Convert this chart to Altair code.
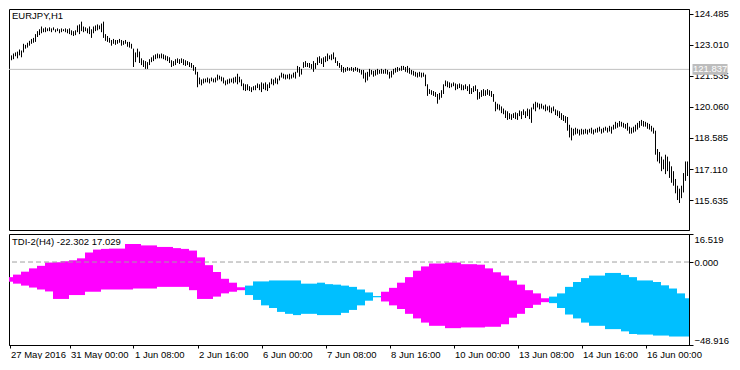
import altair as alt
import pandas as pd

# ---------------- data ----------------
high = [
    122.41, 122.36, 122.46, 122.50, 122.59, 122.64, 122.68, 122.78, 122.73, 123.05,
    123.00, 123.10, 123.19, 123.28, 123.33, 123.51, 123.65, 123.74, 123.87, 123.78,
    123.83, 123.78, 123.83, 123.78, 123.83, 123.74, 123.78, 123.74, 123.78, 123.74,
    123.78, 123.74, 123.78, 123.69, 123.65, 123.69, 123.92, 123.97, 124.10, 123.87,
    123.83, 123.78, 123.87, 123.74, 123.87, 123.92, 123.97, 123.92, 124.01, 124.10,
    123.51, 123.42, 123.33, 123.23, 123.28, 123.23, 123.23, 123.28, 123.23, 123.19,
    123.23, 123.14, 123.14, 123.05, 122.82, 122.64, 122.82, 122.68, 122.36, 122.27,
    122.23, 122.18, 122.32, 122.41, 122.50, 122.55, 122.59, 122.55, 122.59, 122.55,
    122.50, 122.46, 122.41, 122.27, 122.23, 122.32, 122.36, 122.32, 122.36, 122.32,
    122.27, 122.23, 122.18, 122.14, 122.04, 121.95, 121.72, 121.45, 121.36, 121.40,
    121.40, 121.45, 121.40, 121.45, 121.40, 121.45, 121.59, 121.54, 121.49, 121.45,
    121.31, 121.36, 121.40, 121.40, 121.45, 121.49, 121.63, 121.49, 121.36, 121.17,
    121.13, 121.13, 121.04, 120.99, 121.04, 121.08, 121.17, 121.13, 121.22, 121.17,
    121.22, 121.13, 121.22, 121.40, 121.36, 121.45, 121.40, 121.54, 121.68, 121.63,
    121.59, 121.59, 121.63, 121.59, 121.68, 121.72, 122.00, 121.95, 121.86, 122.18,
    122.23, 122.14, 122.14, 122.09, 122.23, 122.14, 122.41, 122.46, 122.36, 122.41,
    122.46, 122.59, 122.50, 122.55, 122.64, 122.41, 122.23, 122.14, 122.04, 121.95,
    121.91, 121.95, 121.91, 121.95, 121.91, 121.95, 121.91, 121.86, 121.81, 121.81,
    121.68, 121.72, 121.86, 121.81, 121.77, 121.81, 121.86, 121.81, 121.86, 121.81,
    121.86, 121.81, 121.72, 121.77, 121.86, 121.91, 121.95, 121.91, 122.00, 122.00,
    121.95, 122.00, 121.91, 121.81, 121.77, 121.72, 121.68, 121.72, 121.68, 121.68,
    121.59, 121.13, 120.90, 120.85, 120.81, 120.76, 120.67, 120.72, 120.85, 121.13,
    121.31, 121.27, 121.22, 121.17, 121.22, 121.17, 121.13, 121.17, 121.13, 121.08,
    121.13, 121.04, 121.13, 120.95, 121.04, 121.08, 120.90, 120.76, 120.85, 120.90,
    120.85, 120.90, 120.85, 120.81, 120.67, 120.30, 120.21, 120.17, 120.08, 119.98,
    119.89, 119.85, 119.76, 119.71, 119.76, 119.80, 119.76, 119.89, 119.85, 119.94,
    119.85, 119.98, 119.94, 120.03, 120.21, 120.30, 120.26, 120.21, 120.21, 120.12,
    120.17, 120.08, 120.12, 120.03, 120.08, 119.94, 119.89, 119.85, 119.76, 119.67,
    119.62, 119.58, 119.21, 119.07, 119.02, 119.07, 119.02, 118.98, 119.02, 118.98,
    119.02, 118.98, 119.02, 119.07, 118.98, 119.02, 119.07, 119.12, 119.02, 119.07,
    119.12, 119.07, 119.16, 119.12, 119.21, 119.35, 119.30, 119.39, 119.35, 119.30,
    119.25, 119.30, 119.12, 119.07, 119.12, 119.21, 119.30, 119.39, 119.44, 119.39,
    119.35, 119.30, 119.25, 119.16, 119.07, 118.93, 118.06, 117.92, 117.70, 117.56,
    117.79, 117.70, 117.47, 117.24, 117.01, 116.64, 116.32, 116.18, 116.32, 116.92,
    117.47, 117.47,
]
low = [
    122.18, 122.14, 122.23, 122.27, 122.32, 122.46, 122.36, 122.50, 122.41, 122.64,
    122.82, 122.87, 122.96, 123.05, 123.10, 123.14, 123.37, 123.46, 123.55, 123.60,
    123.60, 123.65, 123.65, 123.60, 123.69, 123.60, 123.65, 123.55, 123.60, 123.65,
    123.60, 123.55, 123.51, 123.46, 123.42, 123.46, 123.60, 123.51, 123.65, 123.60,
    123.65, 123.55, 123.51, 123.33, 123.55, 123.65, 123.69, 123.74, 123.60, 123.33,
    123.19, 123.14, 123.10, 122.96, 123.05, 123.00, 123.05, 123.10, 122.96, 123.00,
    123.05, 122.91, 122.87, 122.82, 121.95, 122.18, 122.41, 122.14, 122.04, 121.95,
    121.86, 121.86, 122.04, 122.18, 122.23, 122.32, 122.36, 122.36, 122.36, 122.32,
    122.27, 122.23, 122.14, 121.95, 122.00, 122.04, 122.14, 122.09, 122.14, 122.04,
    122.00, 122.04, 121.95, 121.91, 121.77, 121.59, 120.99, 121.13, 121.08, 121.17,
    121.22, 121.22, 121.17, 121.27, 121.22, 121.22, 121.31, 121.36, 121.27, 121.17,
    121.08, 121.13, 121.17, 121.22, 121.17, 121.22, 121.13, 121.22, 121.04, 120.85,
    120.81, 120.85, 120.81, 120.76, 120.85, 120.85, 120.95, 120.85, 120.76, 120.90,
    120.85, 120.81, 120.95, 121.13, 121.08, 121.17, 121.13, 121.31, 121.45, 121.40,
    121.36, 121.40, 121.36, 121.40, 121.45, 121.40, 121.68, 121.49, 121.59, 121.91,
    121.95, 121.95, 121.91, 121.86, 121.72, 121.86, 122.04, 122.14, 122.09, 121.95,
    122.18, 122.23, 122.32, 122.27, 122.32, 122.14, 122.00, 121.91, 121.72, 121.68,
    121.72, 121.77, 121.77, 121.77, 121.72, 121.77, 121.72, 121.68, 121.59, 121.40,
    121.22, 121.31, 121.49, 121.59, 121.49, 121.54, 121.59, 121.63, 121.63, 121.63,
    121.63, 121.59, 121.40, 121.45, 121.59, 121.68, 121.72, 121.77, 121.77, 121.81,
    121.72, 121.68, 121.63, 121.59, 121.54, 121.49, 121.45, 121.49, 121.45, 121.49,
    121.04, 120.58, 120.67, 120.63, 120.58, 120.53, 120.21, 120.40, 120.49, 120.67,
    121.04, 120.99, 120.95, 120.99, 121.04, 120.85, 120.90, 120.95, 120.85, 120.85,
    120.90, 120.81, 120.67, 120.67, 120.76, 120.81, 120.40, 120.44, 120.53, 120.58,
    120.58, 120.63, 120.58, 120.53, 120.30, 119.85, 119.94, 119.89, 119.76, 119.71,
    119.53, 119.44, 119.48, 119.44, 119.53, 119.48, 119.44, 119.62, 119.48, 119.67,
    119.53, 119.62, 119.48, 119.30, 119.94, 119.85, 120.03, 119.94, 119.98, 119.94,
    119.85, 119.89, 119.80, 119.76, 119.85, 119.67, 119.62, 119.53, 119.44, 119.39,
    119.30, 118.93, 118.61, 118.47, 118.70, 118.75, 118.79, 118.70, 118.75, 118.75,
    118.79, 118.75, 118.84, 118.79, 118.75, 118.84, 118.84, 118.89, 118.79, 118.84,
    118.93, 118.84, 118.89, 118.79, 118.98, 119.02, 119.07, 119.12, 119.12, 119.07,
    119.02, 118.93, 118.79, 118.79, 118.84, 118.89, 118.98, 119.07, 119.16, 119.12,
    119.12, 119.02, 118.98, 118.89, 118.79, 117.79, 117.47, 117.38, 117.01, 117.10,
    116.87, 117.01, 116.69, 116.46, 116.32, 115.96, 115.64, 115.50, 115.73, 116.00,
    116.55, 116.78,
]

# TDI-2 (H4) band, one value per H4 step (4 H1 bars)
tdi_top = [
    -8.91, -7.42, -5.69, -3.74, -2.25, -0.30, -0.13, 0.45, 1.02, 2.17,
    5.61, 7.33, 7.74, 7.91, 7.91, 10.61, 10.61, 9.80, 9.80, 8.89,
    8.89, 8.20, 7.74, 6.76, 2.74, -1.85, -5.87, -9.88, -12.18, -14.88,
    -13.90, -11.43, -11.43, -10.86, -10.86, -10.86, -10.86, -12.75, -12.75, -12.18,
    -13.04, -13.33, -13.90, -14.65, -16.20, -17.92, -20.05, -17.52, -15.22, -12.18,
    -8.91, -5.12, -2.59, -0.87, -0.87, -0.30, -0.30, -1.27, -1.27, -1.56,
    -3.74, -6.04, -7.99, -10.86, -13.33, -16.60, -18.49, -21.36, -20.39, -18.49,
    -14.65, -11.78, -9.48, -7.99, -7.99, -6.44, -6.44, -7.59, -8.91, -10.86,
    -10.86, -11.78, -13.73, -15.62, -18.49, -21.36,
]
tdi_bot = [
    -11.61, -12.75, -13.90, -15.05, -16.20, -17.35, -21.77, -21.77, -19.47, -19.47,
    -17.52, -17.52, -16.20, -16.20, -16.20, -16.20, -15.62, -15.62, -15.62, -14.65,
    -14.65, -14.65, -14.65, -16.60, -21.77, -21.77, -20.39, -18.49, -17.52, -16.60,
    -19.47, -22.34, -25.55, -27.10, -29.40, -30.55, -31.29, -30.55, -30.55, -31.29,
    -31.29, -31.29, -29.97, -28.25, -25.55, -22.80, -20.79, -23.26, -25.55, -27.68,
    -30.55, -33.25, -35.71, -37.61, -37.61, -38.99, -38.99, -38.58, -38.58, -38.58,
    -38.18, -38.18, -36.69, -32.84, -30.55, -27.10, -25.21, -23.66, -24.23, -27.10,
    -30.95, -33.25, -35.71, -37.61, -37.61, -39.56, -39.56, -40.88, -42.43, -42.77,
    -42.77, -43.35, -43.35, -43.92, -43.92, -43.92,
]
tdi_trend = ["up"] * 30 + ["down"] * 17 + ["up"] * 21 + ["down"] * 18

tick_bars = [2, 32, 64, 96, 128, 160, 192, 224, 256, 288, 320]
tick_labels = ["27 May 2016", "31 May 00:00", "1 Jun 08:00", "2 Jun 16:00",
               "6 Jun 00:00", "7 Jun 08:00", "8 Jun 16:00", "10 Jun 00:00",
               "13 Jun 08:00", "14 Jun 16:00", "16 Jun 00:00"]
price_ticks = [115.635, 117.110, 118.585, 120.060, 121.535, 123.010, 124.485]
tdi_ticks = [-48.916, 0.0, 16.519]
last_price = 121.837
symbol_title = "EURJPY,H1"
tdi_title = "TDI-2(H4) -22.302 17.029"

# ---------------- frames ----------------
FONT = "Liberation Sans"
FS = 9.5
PW = 680

bars = pd.DataFrame({"bar": list(range(len(high))), "high": high, "low": low})
steps = pd.DataFrame({
    "start": [4 * k - 0.25 for k in range(len(tdi_top))],
    "end": [4 * k + 3.75 for k in range(len(tdi_top))],
    "top": tdi_top,
    "bot": tdi_bot,
    "trend": tdi_trend,
})

xs = alt.Scale(domain=[1.75, 341.75], nice=False, zero=False)
ys_price = alt.Scale(domain=[114.22, 124.70], nice=False, zero=False)
ys_tdi = alt.Scale(domain=[-48.916, 16.519], nice=False, zero=False)

axis_common = dict(labelFont=FONT, labelFontSize=FS, labelColor="black",
                   tickColor="black", domainColor="black", grid=False,
                   title=None, labelOverlap=False)

y_axis_price = alt.Axis(orient="right", values=price_ticks, format=".3f",
                        tickSize=4, labelPadding=1, **axis_common)
y_axis_tdi = alt.Axis(orient="right", values=tdi_ticks, format=".3f",
                      tickSize=4, labelPadding=1, labelFlush=True, **axis_common)

lbl_expr = ("[" + ",".join("'%s'" % t for t in tick_labels) + "][indexof(["
            + ",".join(str(v) for v in tick_bars) + "], datum.value)]")
x_axis = alt.Axis(orient="bottom", values=tick_bars, labelExpr=lbl_expr,
                  tickSize=3, labelPadding=1, labelAlign="left",
                  labelBaseline="top", labelOffset=1, labelFlush=False,
                  **axis_common)

# ---------------- main price panel ----------------
price_df = pd.DataFrame({"high": [last_price], "t": ["%.3f" % last_price]})

price_line = alt.Chart(price_df).mark_rule(color="#c0c0c0", strokeWidth=1).encode(
    y=alt.Y("high:Q", scale=ys_price, axis=y_axis_price)
)
bar_rules = alt.Chart(bars).mark_rule(color="black", strokeWidth=1, clip=True).encode(
    x=alt.X("bar:Q", scale=xs, axis=None),
    y=alt.Y("high:Q", scale=ys_price, axis=y_axis_price),
    y2="low:Q",
)
price_box = alt.Chart(price_df).mark_point(
    shape="M-1,-0.31L1,-0.31L1,0.31L-1,0.31Z", filled=True,
    fill="#bdbdbd", stroke=None, opacity=1, size=1225
).encode(
    x=alt.value(PW + 21),
    y=alt.Y("high:Q", scale=ys_price, axis=y_axis_price),
)
price_text = alt.Chart(price_df).mark_text(
    align="left", baseline="middle", font=FONT, fontSize=FS, color="white"
).encode(
    x=alt.value(PW + 4),
    y=alt.Y("high:Q", scale=ys_price, axis=y_axis_price),
    text="t:N",
)
title1 = alt.Chart(pd.DataFrame({"t": [symbol_title]})).mark_text(
    align="left", baseline="top", font=FONT, fontSize=FS, color="black"
).encode(x=alt.value(3), y=alt.value(2), text="t:N")

main = alt.layer(price_line, bar_rules, price_box, price_text, title1).properties(
    width=PW, height=221
)

# ---------------- indicator panel ----------------
bands = alt.Chart(steps).mark_rect(clip=True, strokeWidth=0).encode(
    x=alt.X("start:Q", scale=xs, axis=x_axis),
    x2="end:Q",
    y=alt.Y("top:Q", scale=ys_tdi, axis=y_axis_tdi),
    y2="bot:Q",
    color=alt.Color("trend:N",
                    scale=alt.Scale(domain=["up", "down"], range=["#ff00ff", "#00bfff"]),
                    legend=None),
)
zero_line = alt.Chart(pd.DataFrame({"top": [0.0]})).mark_rule(
    color="#a0a0a0", strokeWidth=1, strokeDash=[5, 3]
).encode(y=alt.Y("top:Q", scale=ys_tdi, axis=y_axis_tdi))
title2 = alt.Chart(pd.DataFrame({"t": [tdi_title]})).mark_text(
    align="left", baseline="top", font=FONT, fontSize=FS, color="black"
).encode(x=alt.value(3), y=alt.value(3), text="t:N")

lower = alt.layer(bands, zero_line, title2).properties(width=PW, height=111)

chart = (
    alt.vconcat(main, lower, spacing=2)
    .properties(padding=0, background="white")
    .configure_view(stroke="black", strokeWidth=1)
)

chart.save("out.html", embed_options={"renderer": "svg", "actions": False})
